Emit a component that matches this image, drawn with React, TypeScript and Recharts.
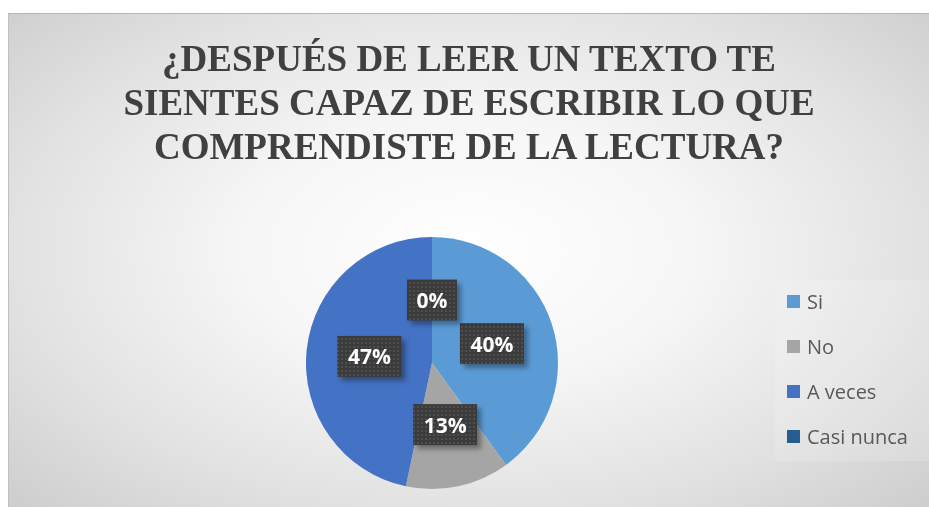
import React from 'react';
import { PieChart, Pie, Cell, Legend } from 'recharts';

const categorias = ['Si', 'No', 'A veces', 'Casi nunca'];
const respuestas = [6, 2, 7, 0];
const colores = ['#5B9BD5', '#A5A5A5', '#4472C4', '#255E91'];

const tituloLineas = [
  '¿DESPUÉS DE LEER UN TEXTO TE',
  'SIENTES CAPAZ DE ESCRIBIR LO QUE',
  'COMPRENDISTE DE LA LECTURA?',
];

const dados = categorias.map((nome, i) => ({ name: nome, value: respuestas[i] }));

const RADIAN = Math.PI / 180;

const renderEtiqueta = (props: any) => {
  const { cx, cy, midAngle, outerRadius, percent, index } = props;
  const r = outerRadius * 0.5;
  const x = cx + r * Math.cos(-midAngle * RADIAN);
  const y = cy + r * Math.sin(-midAngle * RADIAN);
  const texto = `${Math.round(percent * 100)}%`;
  const w = texto.length > 2 ? 64 : 50;
  const h = 41;
  return (
    <g key={`lbl-${index}`}>
      {index === 0 && (
        <defs>
          <pattern id="puntos" width="4" height="4" patternUnits="userSpaceOnUse">
            <rect width="4" height="4" fill="#3b3b3b" />
            <rect x="0" y="0" width="2" height="2" fill="#4e4e4e" />
          </pattern>
          <filter id="sombra" x="-30%" y="-30%" width="160%" height="160%">
            <feGaussianBlur stdDeviation="2.5" />
          </filter>
        </defs>
      )}
      <rect
        x={x - w / 2 + 4}
        y={y - h / 2 + 4}
        width={w}
        height={h}
        fill="rgba(0,0,0,0.35)"
        filter="url(#sombra)"
      />
      <rect x={x - w / 2} y={y - h / 2} width={w} height={h} fill="url(#puntos)" />
      <text
        x={x}
        y={y}
        textAnchor="middle"
        dominantBaseline="central"
        fill="#ffffff"
        fontFamily="'Open Sans', sans-serif"
        fontWeight="bold"
        fontSize={21}
      >
        {texto}
      </text>
    </g>
  );
};

// la leyenda sigue el orden de las categorías, no el alfabético
const renderLeyenda = (props: any) => {
  const payload = [...(props.payload || [])].sort(
    (a: any, b: any) => categorias.indexOf(a.value) - categorias.indexOf(b.value)
  );
  return (
    <div style={{ fontFamily: "'Open Sans', sans-serif", fontSize: 20, color: '#595959' }}>
      {payload.map((item: any, i: number) => (
        <div key={i} style={{ height: 45, display: 'flex', alignItems: 'center' }}>
          <span
            style={{
              display: 'inline-block',
              width: 13,
              height: 13,
              background: item.color,
              marginRight: 7,
            }}
          />
          <span>{item.value}</span>
        </div>
      ))}
    </div>
  );
};

export default function App() {
  return (
    <div
      style={{
        position: 'fixed',
        left: 8,
        top: 13,
        width: 921,
        height: 494,
        overflow: 'hidden',
        background:
          'radial-gradient(ellipse 70% 75% at 50% 48%, #ffffff 0%, #f6f6f6 35%, #e2e2e2 70%, #cdcdcd 100%)',
        borderTop: '1px solid #b5b5b5',
        borderLeft: '1px solid #c0c0c0',
        boxSizing: 'border-box',
      }}
    >
      <div
        style={{
          position: 'absolute',
          top: 23,
          left: 0,
          width: '100%',
          textAlign: 'center',
          fontFamily: "'Liberation Serif', 'Times New Roman', serif",
          fontWeight: 'bold',
          fontSize: 37,
          lineHeight: '44px',
          color: '#404040',
        }}
      >
        {tituloLineas.map((l, i) => (
          <div key={i}>{l}</div>
        ))}
      </div>
      <div
        style={{
          position: 'absolute',
          left: 766,
          top: 266,
          width: 155,
          height: 181,
          background: 'rgba(255,255,255,0.15)',
        }}
      />
      <div style={{ position: 'absolute', left: 0, top: 0 }}>
        <PieChart width={920} height={493} margin={{ top: 0, right: 0, bottom: 0, left: 0 }}>
          <Pie
            data={dados}
            dataKey="value"
            nameKey="name"
            cx={423}
            cy={349}
            outerRadius={126}
            startAngle={90}
            endAngle={-270}
            stroke="none"
            labelLine={false}
            label={renderEtiqueta}
            isAnimationActive={false}
          >
            {dados.map((_, i) => (
              <Cell key={`cell-${i}`} fill={colores[i]} />
            ))}
          </Pie>
          <Legend
            layout="vertical"
            align="right"
            verticalAlign="top"
            content={renderLeyenda}
            wrapperStyle={{ left: 778, top: 265, width: 142 }}
          />
        </PieChart>
      </div>
    </div>
  );
}
